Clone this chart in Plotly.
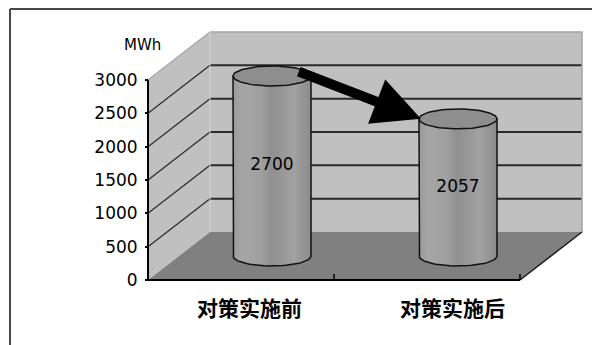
import numpy as np
import plotly.graph_objects as go

# ---------------- data ----------------
categories = ["对策实施前", "对策实施后"]
energy_mwh = [2700, 2057]
y_ticks = [0, 500, 1000, 1500, 2000, 2500, 3000]
y_unit = "MWh"

# ---------------- layout / projection constants ----------------
W, H = 592, 345
PX_PER_CAT = 186.0          # horizontal pixels per category on the front plane
MWH_PER_PX = 15.0           # vertical scale
AXIS_X0_PX = 148            # pixel x of the front-left corner (value axis)
AXIS_Y0_PX = 280            # pixel y of the front floor edge (value 0)
DEPTH_DX = 62 / PX_PER_CAT  # oblique depth offset, x units
DEPTH_DY = 48 * MWH_PER_PX  # oblique depth offset, value units
BAR_HALF_W = 39 / PX_PER_CAT
ELL_HALF_H = 10 * MWH_PER_PX
TICK_UP = 6 * MWH_PER_PX
LABEL_XSHIFT_PX = [8, 25]

n = len(categories)
YMAX = y_ticks[-1]
x_left = -0.5 - AXIS_X0_PX / PX_PER_CAT
x_right = x_left + W / PX_PER_CAT
y_bottom = -(H - AXIS_Y0_PX) * MWH_PER_PX
y_top = y_bottom + H * MWH_PER_PX

x0 = -0.5
x1 = n - 0.5
dx, dy = DEPTH_DX, DEPTH_DY

WALL = "#c0c0c0"
FLOOR = "#808080"
EDGE_LIGHT = "#a4a4a4"
GRID = "#2a2a2a"

shapes = []
# side wall
shapes.append(dict(type="path", layer="below", xref="x", yref="y",
                   path=f"M {x0},0 L {x0},{YMAX} L {x0+dx},{YMAX+dy} L {x0+dx},{dy} Z",
                   fillcolor=WALL, line=dict(width=0)))
# back wall
shapes.append(dict(type="rect", layer="below", xref="x", yref="y",
                   x0=x0 + dx, x1=x1 + dx, y0=dy, y1=YMAX + dy,
                   fillcolor=WALL, line=dict(width=0)))
# floor
shapes.append(dict(type="path", layer="below", xref="x", yref="y",
                   path=f"M {x0},0 L {x1},0 L {x1+dx},{dy} L {x0+dx},{dy} Z",
                   fillcolor=FLOOR, line=dict(width=0)))
# gridlines on back wall and side wall
for v in y_ticks[1:-1]:
    shapes.append(dict(type="line", layer="below", xref="x", yref="y",
                       x0=x0 + dx, x1=x1 + dx, y0=v + dy, y1=v + dy,
                       line=dict(color=GRID, width=2)))
    shapes.append(dict(type="line", layer="below", xref="x", yref="y",
                       x0=x0, x1=x0 + dx, y0=v, y1=v + dy,
                       line=dict(color=GRID, width=1.2)))
# light wall edges
shapes.append(dict(type="line", layer="below", xref="x", yref="y",
                   x0=x0, x1=x0 + dx, y0=YMAX, y1=YMAX + dy,
                   line=dict(color=EDGE_LIGHT, width=1.2)))
shapes.append(dict(type="path", layer="below", xref="x", yref="y",
                   path=f"M {x0+dx},{YMAX+dy} L {x1+dx},{YMAX+dy} L {x1+dx},{dy}",
                   line=dict(color=EDGE_LIGHT, width=1.5)))
shapes.append(dict(type="line", layer="below", xref="x", yref="y",
                   x0=x0 + dx, x1=x0 + dx, y0=dy, y1=YMAX + dy,
                   line=dict(color="#d4d4d4", width=1)))
# floor right edge
shapes.append(dict(type="line", layer="below", xref="x", yref="y",
                   x0=x1, x1=x1 + dx, y0=0, y1=dy,
                   line=dict(color="#1a1a1a", width=1.5)))
# value axis line
shapes.append(dict(type="line", layer="below", xref="x", yref="y",
                   x0=x0, x1=x0, y0=0, y1=YMAX,
                   line=dict(color="#000000", width=2)))
# category axis line and boundary ticks
shapes.append(dict(type="line", layer="below", xref="x", yref="y",
                   x0=x0, x1=x1, y0=0, y1=0,
                   line=dict(color="#000000", width=2)))
for i in range(n):
    shapes.append(dict(type="line", layer="below", xref="x", yref="y",
                       x0=i + 0.5, x1=i + 0.5, y0=0, y1=TICK_UP,
                       line=dict(color="#000000", width=1.5)))
# outer frame (top and left, rest is cropped)
shapes.append(dict(type="line", xref="paper", yref="paper",
                   x0=10 / W, x1=1.0, y0=1 - 9 / H, y1=1 - 9 / H,
                   line=dict(color="#484848", width=2)))
shapes.append(dict(type="line", xref="paper", yref="paper",
                   x0=10 / W, x1=10 / W, y0=0, y1=1 - 9 / H,
                   line=dict(color="#484848", width=2)))

fig = go.Figure()

body_scale = [[0.0, "#9a9a9a"], [0.12, "#a6a6a6"], [0.35, "#a0a0a0"],
              [0.5, "#909090"], [0.65, "#999999"], [0.78, "#a2a2a2"],
              [0.9, "#959595"], [1.0, "#8c8c8c"]]

t_low = np.linspace(np.pi, 2 * np.pi, 40)
t_full = np.linspace(0, 2 * np.pi, 80)
base = dy / 2
for i, v in enumerate(energy_mwh):
    cx = i + dx / 2
    top = base + v
    xs = [cx - BAR_HALF_W] + list(cx + BAR_HALF_W * np.cos(t_low)) + [cx + BAR_HALF_W, cx - BAR_HALF_W]
    ys = [top] + list(base + ELL_HALF_H * np.sin(t_low)) + [top, top]
    fig.add_trace(go.Scatter(x=xs, y=ys, mode="lines", fill="toself",
                             fillgradient=dict(type="horizontal", colorscale=body_scale),
                             line=dict(color="#111111", width=1.5),
                             hoverinfo="skip", showlegend=False))
    fig.add_trace(go.Scatter(x=cx + BAR_HALF_W * np.cos(t_full),
                             y=top + ELL_HALF_H * np.sin(t_full),
                             mode="lines", fill="toself", fillcolor="#8e8e8e",
                             line=dict(color="#111111", width=1.5),
                             hoverinfo="skip", showlegend=False))

# value labels inside the cylinders
fig.add_trace(go.Scatter(x=[i + dx / 2 for i in range(n)],
                         y=[base + v / 2 for v in energy_mwh],
                         mode="text", text=[str(v) for v in energy_mwh],
                         textfont=dict(family="DejaVu Sans", size=17, color="#000000"),
                         hoverinfo="skip", showlegend=False))

annotations = []
# arrow from first to second cylinder top
annotations.append(dict(x=1 + dx / 2 - BAR_HALF_W * 0.95, y=base + energy_mwh[1],
                        ax=0 + dx / 2 + BAR_HALF_W * 0.65, ay=base + energy_mwh[0] + ELL_HALF_H * 0.5,
                        xref="x", yref="y", axref="x", ayref="y", text="",
                        showarrow=True, arrowhead=2, arrowsize=0.95, arrowwidth=10,
                        arrowcolor="#000000", standoff=0, startstandoff=0))
# category labels
for i, c in enumerate(categories):
    annotations.append(dict(x=i, y=-(307 - AXIS_Y0_PX) * MWH_PER_PX, xref="x", yref="y",
                            xshift=LABEL_XSHIFT_PX[i], text=f"<b>{c}</b>", showarrow=False,
                            font=dict(family="Noto Sans CJK SC", size=21, color="#000000"),
                            xanchor="center", yanchor="middle"))
# unit label
annotations.append(dict(x=142 / W, y=1 - 45 / H, xref="paper", yref="paper",
                        text=y_unit, showarrow=False,
                        font=dict(family="DejaVu Sans", size=15, color="#000000"),
                        xanchor="center", yanchor="middle"))

fig.update_layout(
    width=W, height=H,
    margin=dict(l=0, r=0, t=0, b=0),
    paper_bgcolor="#ffffff", plot_bgcolor="#ffffff",
    showlegend=False,
    shapes=shapes, annotations=annotations,
    xaxis=dict(range=[x_left, x_right], visible=False, fixedrange=True),
    yaxis=dict(range=[y_bottom, y_top], anchor="free", position=AXIS_X0_PX / W,
               tickvals=y_ticks, ticktext=[str(t) for t in y_ticks],
               ticks="outside", ticklen=3, tickcolor="#000000", tickwidth=1.5,
               ticklabelstandoff=4,
               showgrid=False, zeroline=False, showline=False,
               tickfont=dict(family="DejaVu Sans", size=17, color="#000000"),
               fixedrange=True),
)

fig.write_html("out.html")
